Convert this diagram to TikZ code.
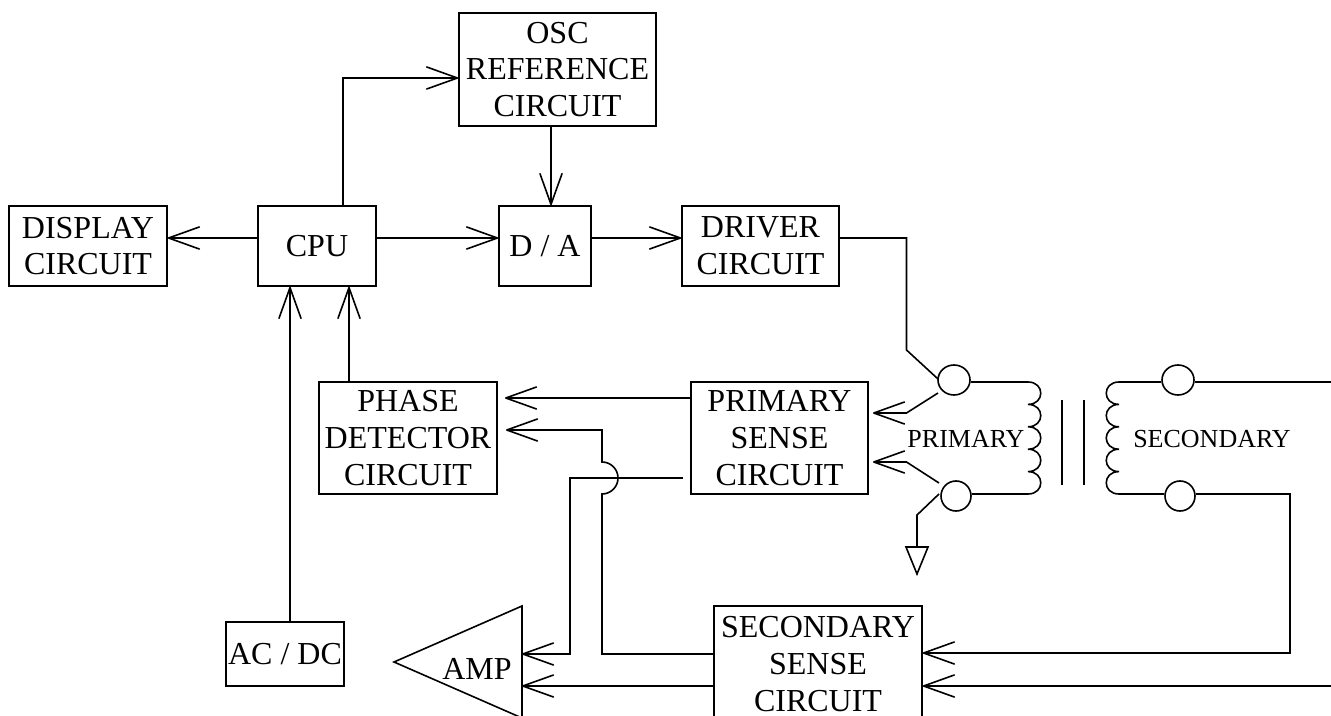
\documentclass[tikz,border=0pt]{standalone}
\usepackage{fontspec}
\setmainfont{Liberation Serif}
\usetikzlibrary{arrows.meta,shapes.geometric}
\tikzset{
  wire/.style={line width=1.2pt,line join=miter},
  arr/.style={wire,-{Straight Barb[length=23pt,width=16.5pt,line width=1.2pt,round=false]}},
  box/.style={draw,line width=1.2pt,inner sep=0pt,align=center,font=\fontsize{24}{27.5}\selectfont},
  lbl/.style={inner sep=0pt,align=center,font=\fontsize{24}{27.5}\selectfont},
  small/.style={inner sep=0pt,font=\fontsize{19.5}{22}\selectfont},
  term/.style={draw,ellipse,line width=1.2pt,inner sep=0pt,minimum height=22.5pt}
}
\begin{document}
\begin{tikzpicture}[x=0.75pt,y=-0.75pt]
\useasboundingbox (0,0) rectangle (1331,716);
\clip (0,0) rectangle (1331,716);
% boxes
\node[box,minimum width=147.75pt,minimum height=84.75pt] (osc) at (557.5,69.5) {OSC\\REFERENCE\\CIRCUIT};
\node[box,minimum width=118.5pt,minimum height=60pt] (disp) at (88,246) {DISPLAY\\CIRCUIT};
\node[box,minimum width=88.5pt,minimum height=60pt] (cpu) at (317,246) {CPU};
\node[box,minimum width=69pt,minimum height=60pt] (da) at (545,246) {D / A};
\node[box,minimum width=117.75pt,minimum height=60pt] (drv) at (760.5,246) {DRIVER\\CIRCUIT};
\node[box,minimum width=133.5pt,minimum height=84pt] (phase) at (408,438) {PHASE\\DETECTOR\\CIRCUIT};
\node[box,minimum width=132.75pt,minimum height=84pt] (psense) at (779.5,438) {PRIMARY\\SENSE\\CIRCUIT};
\node[box,minimum width=156pt,minimum height=87pt] (ssense) at (818,664) {SECONDARY\\SENSE\\CIRCUIT};
\node[box,minimum width=88.5pt,minimum height=48pt] (acdc) at (285,654) {AC / DC};
% amplifier
\coordinate (ampT) at (522,606);
\coordinate (ampA) at (394,662);
\coordinate (ampB) at (522,718);
\draw[wire] (ampT) -- (ampA) -- (ampB) -- cycle;
\node[lbl] (amp) at (477,669) {AMP};
% transformer terminals
\node[term,minimum width=24pt] (t1) at (954,380) {};
\node[term,minimum width=22.5pt] (t2) at (956,496) {};
\node[term,minimum width=24pt] (t3) at (1178,380) {};
\node[term,minimum width=22.5pt] (t4) at (1180,496) {};
\node[small] (plabel) at (966,439) {PRIMARY};
\node[small] (slabel) at (1212,439) {SECONDARY};
% upper connectors
\coordinate (c1y) at (343,78);
\coordinate (o1) at (551,126);
\coordinate (c2) at (257.5,238);
\coordinate (c3) at (376,238);
\draw[arr] (cpu.north -| c1y) -- (c1y) -- (c1y -| osc.west);
\draw[arr] (osc.south -| o1) -- (o1 |- da.north);
\draw[arr] (c2) -- (c2 -| disp.east);
\draw[arr] (c3) -- (c3 -| da.west);
\draw[arr] (c3 -| da.east) -- (c3 -| drv.west);
\coordinate (acx) at (290,622);
\draw[arr] (acx) -- (acx |- cpu.south);
\coordinate (phx) at (349,382);
\draw[arr] (phx) -- (phx |- cpu.south);
% driver to primary
\coordinate (d1) at (906.5,238);
\coordinate (d2) at (906.5,350);
\coordinate (d3) at (938,379);
\draw[wire] (c3 -| drv.east) -- (d1) -- (d2) -- (d3);
% primary terminals to sense
\coordinate (p1a) at (938,393);
\coordinate (p1b) at (906.5,413);
\coordinate (p1c) at (873,413);
\draw[arr] (p1a) -- (p1b) -- (p1c);
\coordinate (p2a) at (939,483);
\coordinate (p2b) at (906.5,462);
\coordinate (p2c) at (873,462);
\draw[arr] (p2a) -- (p2b) -- (p2c);
% ground
\coordinate (g1) at (939,494);
\coordinate (g2) at (917,515);
\coordinate (g3) at (917,547);
\coordinate (gL) at (906,547);
\coordinate (gR) at (928,547);
\coordinate (gT) at (917,574);
\draw[wire] (g1) -- (g2) -- (g3);
\draw[wire] (gL) -- (gR) -- (gT) -- cycle;
% primary coil
\draw[wire] (t1.east |- 0,382) -- (1028,382)
  .. controls (1045,382) and (1045,404.4) .. (1028,404.4)
  .. controls (1045,404.4) and (1045,426.8) .. (1028,426.8)
  .. controls (1045,426.8) and (1045,449.2) .. (1028,449.2)
  .. controls (1045,449.2) and (1045,471.6) .. (1028,471.6)
  .. controls (1045,471.6) and (1045,494) .. (1028,494)
  -- (t2.east |- 0,494);
% core
\coordinate (k1) at (1062,400);
\coordinate (k2) at (1062,485);
\coordinate (k3) at (1084,400);
\coordinate (k4) at (1084,485);
\draw[wire] (k1) -- (k2);
\draw[wire] (k3) -- (k4);
% secondary coil
\draw[wire] (t3.west |- 0,382) -- (1119,382)
  .. controls (1102,382) and (1102,404.4) .. (1119,404.4)
  .. controls (1102,404.4) and (1102,426.8) .. (1119,426.8)
  .. controls (1102,426.8) and (1102,449.2) .. (1119,449.2)
  .. controls (1102,449.2) and (1102,471.6) .. (1119,471.6)
  .. controls (1102,471.6) and (1102,494) .. (1119,494)
  -- (t4.west |- 0,494);
\coordinate (s1) at (1331,382);
\draw[wire] (t3.east |- s1) -- (s1);
\coordinate (s2) at (1290,494);
\coordinate (s3) at (1290,653);
\draw[arr] (t4.east |- s2) -- (s2) -- (s3) -- (s3 -| ssense.east);
\coordinate (s4) at (1331,686);
\draw[arr] (s4) -- (s4 -| ssense.east);
% sense to phase detector
\coordinate (m1) at (691,398);
\coordinate (m1e) at (505,398);
\draw[arr] (m1) -- (m1e);
% secondary sense to phase detector with hop
\coordinate (h0) at (602,654);
\coordinate (h1) at (602,494);
\coordinate (h3) at (602,430);
\coordinate (h4) at (506,430);
\draw[arr] (h0 -| ssense.west) -- (h0) -- (h1) arc[start angle=90,end angle=-90,radius=16] -- (h3) -- (h4);
% primary sense to amp
\coordinate (a0) at (683,478);
\coordinate (a1) at (570,478);
\coordinate (a2) at (570,654);
\draw[arr] (a0) -- (a1) -- (a2) -- (a2 -| ampT);
\coordinate (b0) at (714,686);
\draw[arr] (b0) -- (b0 -| ampT);
\end{tikzpicture}
\end{document}
